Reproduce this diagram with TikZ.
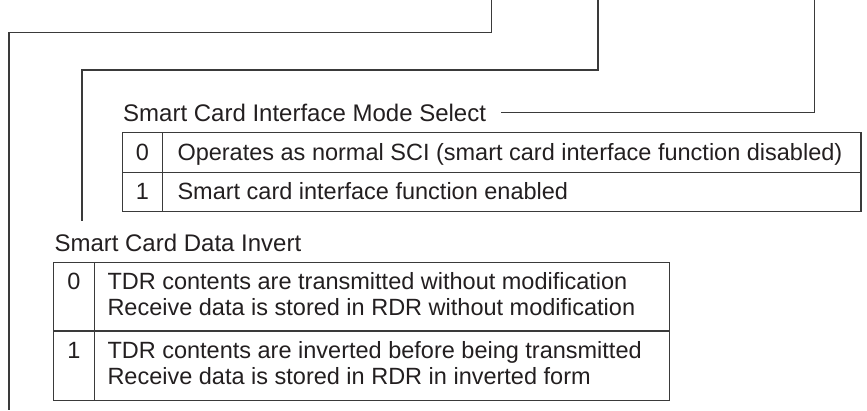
\documentclass[tikz,border=0pt]{standalone}
\usepackage{fontspec}
\setmainfont{Liberation Sans}
\definecolor{ink}{HTML}{231F20}
\definecolor{rulec}{HTML}{3A3A3A}
\begin{document}
\begin{tikzpicture}[x=1pt,y=-1pt,
  lead/.style={draw=rulec,line width=1.1pt},
  tbl/.style={draw=rulec,line width=1.1pt},
  ttl/.style={anchor=base west,inner sep=0pt,text=ink,font=\fontsize{24}{27}\selectfont},
  txt/.style={anchor=base west,inner sep=0pt,text=ink,font=\fontsize{23.5}{27}\selectfont},
  num/.style={anchor=base,inner sep=0pt,text=ink,font=\fontsize{23.5}{27}\selectfont}]
\useasboundingbox (0,0) rectangle (867,410);

% leader coordinates
\coordinate (aTop) at (491.7,0);
\coordinate (aC1) at (491.7,32.7);
\coordinate (aC2) at (9,32.7);
\coordinate (aEnd) at (9,410);
\coordinate (bTop) at (598,0);
\coordinate (bC1) at (598,70);
\coordinate (bC2) at (82,70);
\coordinate (bEnd) at (82,220.7);
\coordinate (cTop) at (814.3,0);
\coordinate (cC1) at (814.3,112.3);
\coordinate (cEnd) at (500.5,112.3);

\draw[lead] (aTop) -- (aC1) -- (aC2) -- (aEnd);
\draw[lead] (bTop) -- (bC1) -- (bC2) -- (bEnd);
\draw[lead] (cTop) -- (cC1) -- (cEnd);

% Table 1
\node[ttl] (lblC) at (123,121) {Smart Card Interface Mode Select};
\coordinate (t1nw) at (122.3,132.3);
\coordinate (t1se) at (861,211.7);
\coordinate (t1r1w) at (122.3,172.2);
\coordinate (t1r1e) at (861,172.2);
\coordinate (t1ct) at (162.3,132.3);
\coordinate (t1cb) at (162.3,211.7);
\draw[tbl] (t1nw) rectangle (t1se);
\draw[tbl] (t1r1w) -- (t1r1e);
\draw[tbl] (t1ct) -- (t1cb);
\node[num] (t1n0) at (142.3,160.5) {0};
\node[txt] (t1d0) at (177.3,160.5) {Operates as normal SCI (smart card interface function disabled)};
\node[num] (t1n1) at (142.3,199.5) {1};
\node[txt] (t1d1) at (177.3,199.5) {Smart card interface function enabled};

% Table 2
\node[ttl] (lblB) at (54.3,251.7) {Smart Card Data Invert};
\coordinate (t2nw) at (53.3,262.3);
\coordinate (t2se) at (669.3,400.7);
\coordinate (t2r1w) at (53.3,331);
\coordinate (t2r1e) at (669.3,331);
\coordinate (t2ct) at (94.3,262.3);
\coordinate (t2cb) at (94.3,400.7);
\draw[tbl] (t2nw) rectangle (t2se);
\draw[tbl] (t2r1w) -- (t2r1e);
\draw[tbl] (t2ct) -- (t2cb);
\node[num] (t2n0) at (73.8,289) {0};
\node[txt] (t2d0a) at (107.3,289) {TDR contents are transmitted without modification};
\node[txt] (t2d0b) at (107.3,315.3) {Receive data is stored in RDR without modification};
\node[num] (t2n1) at (73.8,358) {1};
\node[txt] (t2d1a) at (107.3,358) {TDR contents are inverted before being transmitted};
\node[txt] (t2d1b) at (107.3,384.3) {Receive data is stored in RDR in inverted form};
\end{tikzpicture}
\end{document}
